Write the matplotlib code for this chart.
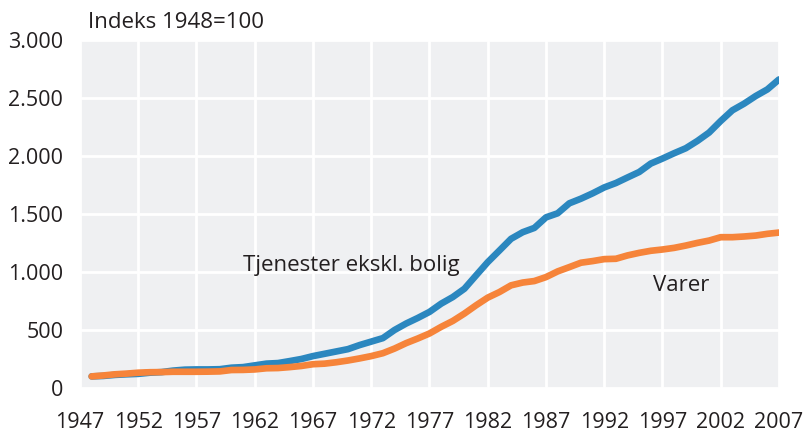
import matplotlib.pyplot as plt
import numpy as np

plt.rcParams["font.family"] = ["Open Sans", "DejaVu Sans"]

years = np.arange(1948, 2008)

tjenester = [100, 104, 113, 118, 122, 132, 137, 150, 158, 160,
             160, 162, 175, 180, 195, 210, 215, 232, 250, 275,
             295, 315, 335, 370, 400, 430, 500, 556, 604, 656,
             727, 784, 856, 971, 1085, 1185, 1286, 1343, 1380, 1471,
             1506, 1592, 1632, 1678, 1729, 1767, 1815, 1862, 1935, 1978,
             2024, 2067, 2130, 2202, 2302, 2394, 2451, 2517, 2574, 2660]

varer = [100, 108, 118, 124, 132, 136, 137, 140, 140, 140,
         141, 143, 155, 156, 160, 170, 172, 180, 190, 205,
         210, 222, 237, 255, 275, 300, 340, 387, 427, 470,
         527, 578, 642, 713, 779, 827, 885, 909, 922, 956,
         1005, 1042, 1080, 1094, 1111, 1114, 1143, 1165, 1183, 1194,
         1208, 1228, 1251, 1271, 1300, 1300, 1306, 1314, 1329, 1340]

xticks = np.arange(1947, 2008, 5)
yticks = [0, 500, 1000, 1500, 2000, 2500, 3000]
ylabels = ["0", "500", "1.000", "1.500", "2.000", "2.500", "3.000"]

blue = "#2b87bf"
orange = "#f6843a"
txt = "#231f20"

fig = plt.figure(figsize=(8.04, 4.30), dpi=100)
ax = fig.add_axes([80 / 804, 1 - 388 / 430, 699 / 804, 348 / 430])
ax.set_facecolor("#eff0f2")

ax.plot(years, tjenester, color=blue, lw=4.8, solid_capstyle="round", solid_joinstyle="round", zorder=3)
ax.plot(years, varer, color=orange, lw=4.8, solid_capstyle="round", solid_joinstyle="round", zorder=3)

ax.set_xlim(1947, 2007)
ax.set_ylim(0, 3000)
ax.set_xticks(xticks)
ax.set_yticks(yticks)
ax.set_yticklabels(ylabels)
ax.grid(True, color="white", lw=2)
ax.set_axisbelow(True)
for s in ax.spines.values():
    s.set_visible(False)
ax.tick_params(length=0, labelsize=15.5, colors=txt)
ax.tick_params(axis="x", pad=17)
ax.tick_params(axis="y", pad=12)

ax.text(1961.0, 1057, "Tjenester ekskl. bolig", fontsize=16, color=txt, va="center")
ax.text(1996.2, 885, "Varer", fontsize=16, color=txt, va="center")
fig.text(88 / 804, 1 - 23 / 430, "Indeks 1948=100", fontsize=16, color=txt, va="center")

fig.savefig("out.png", dpi=100)
